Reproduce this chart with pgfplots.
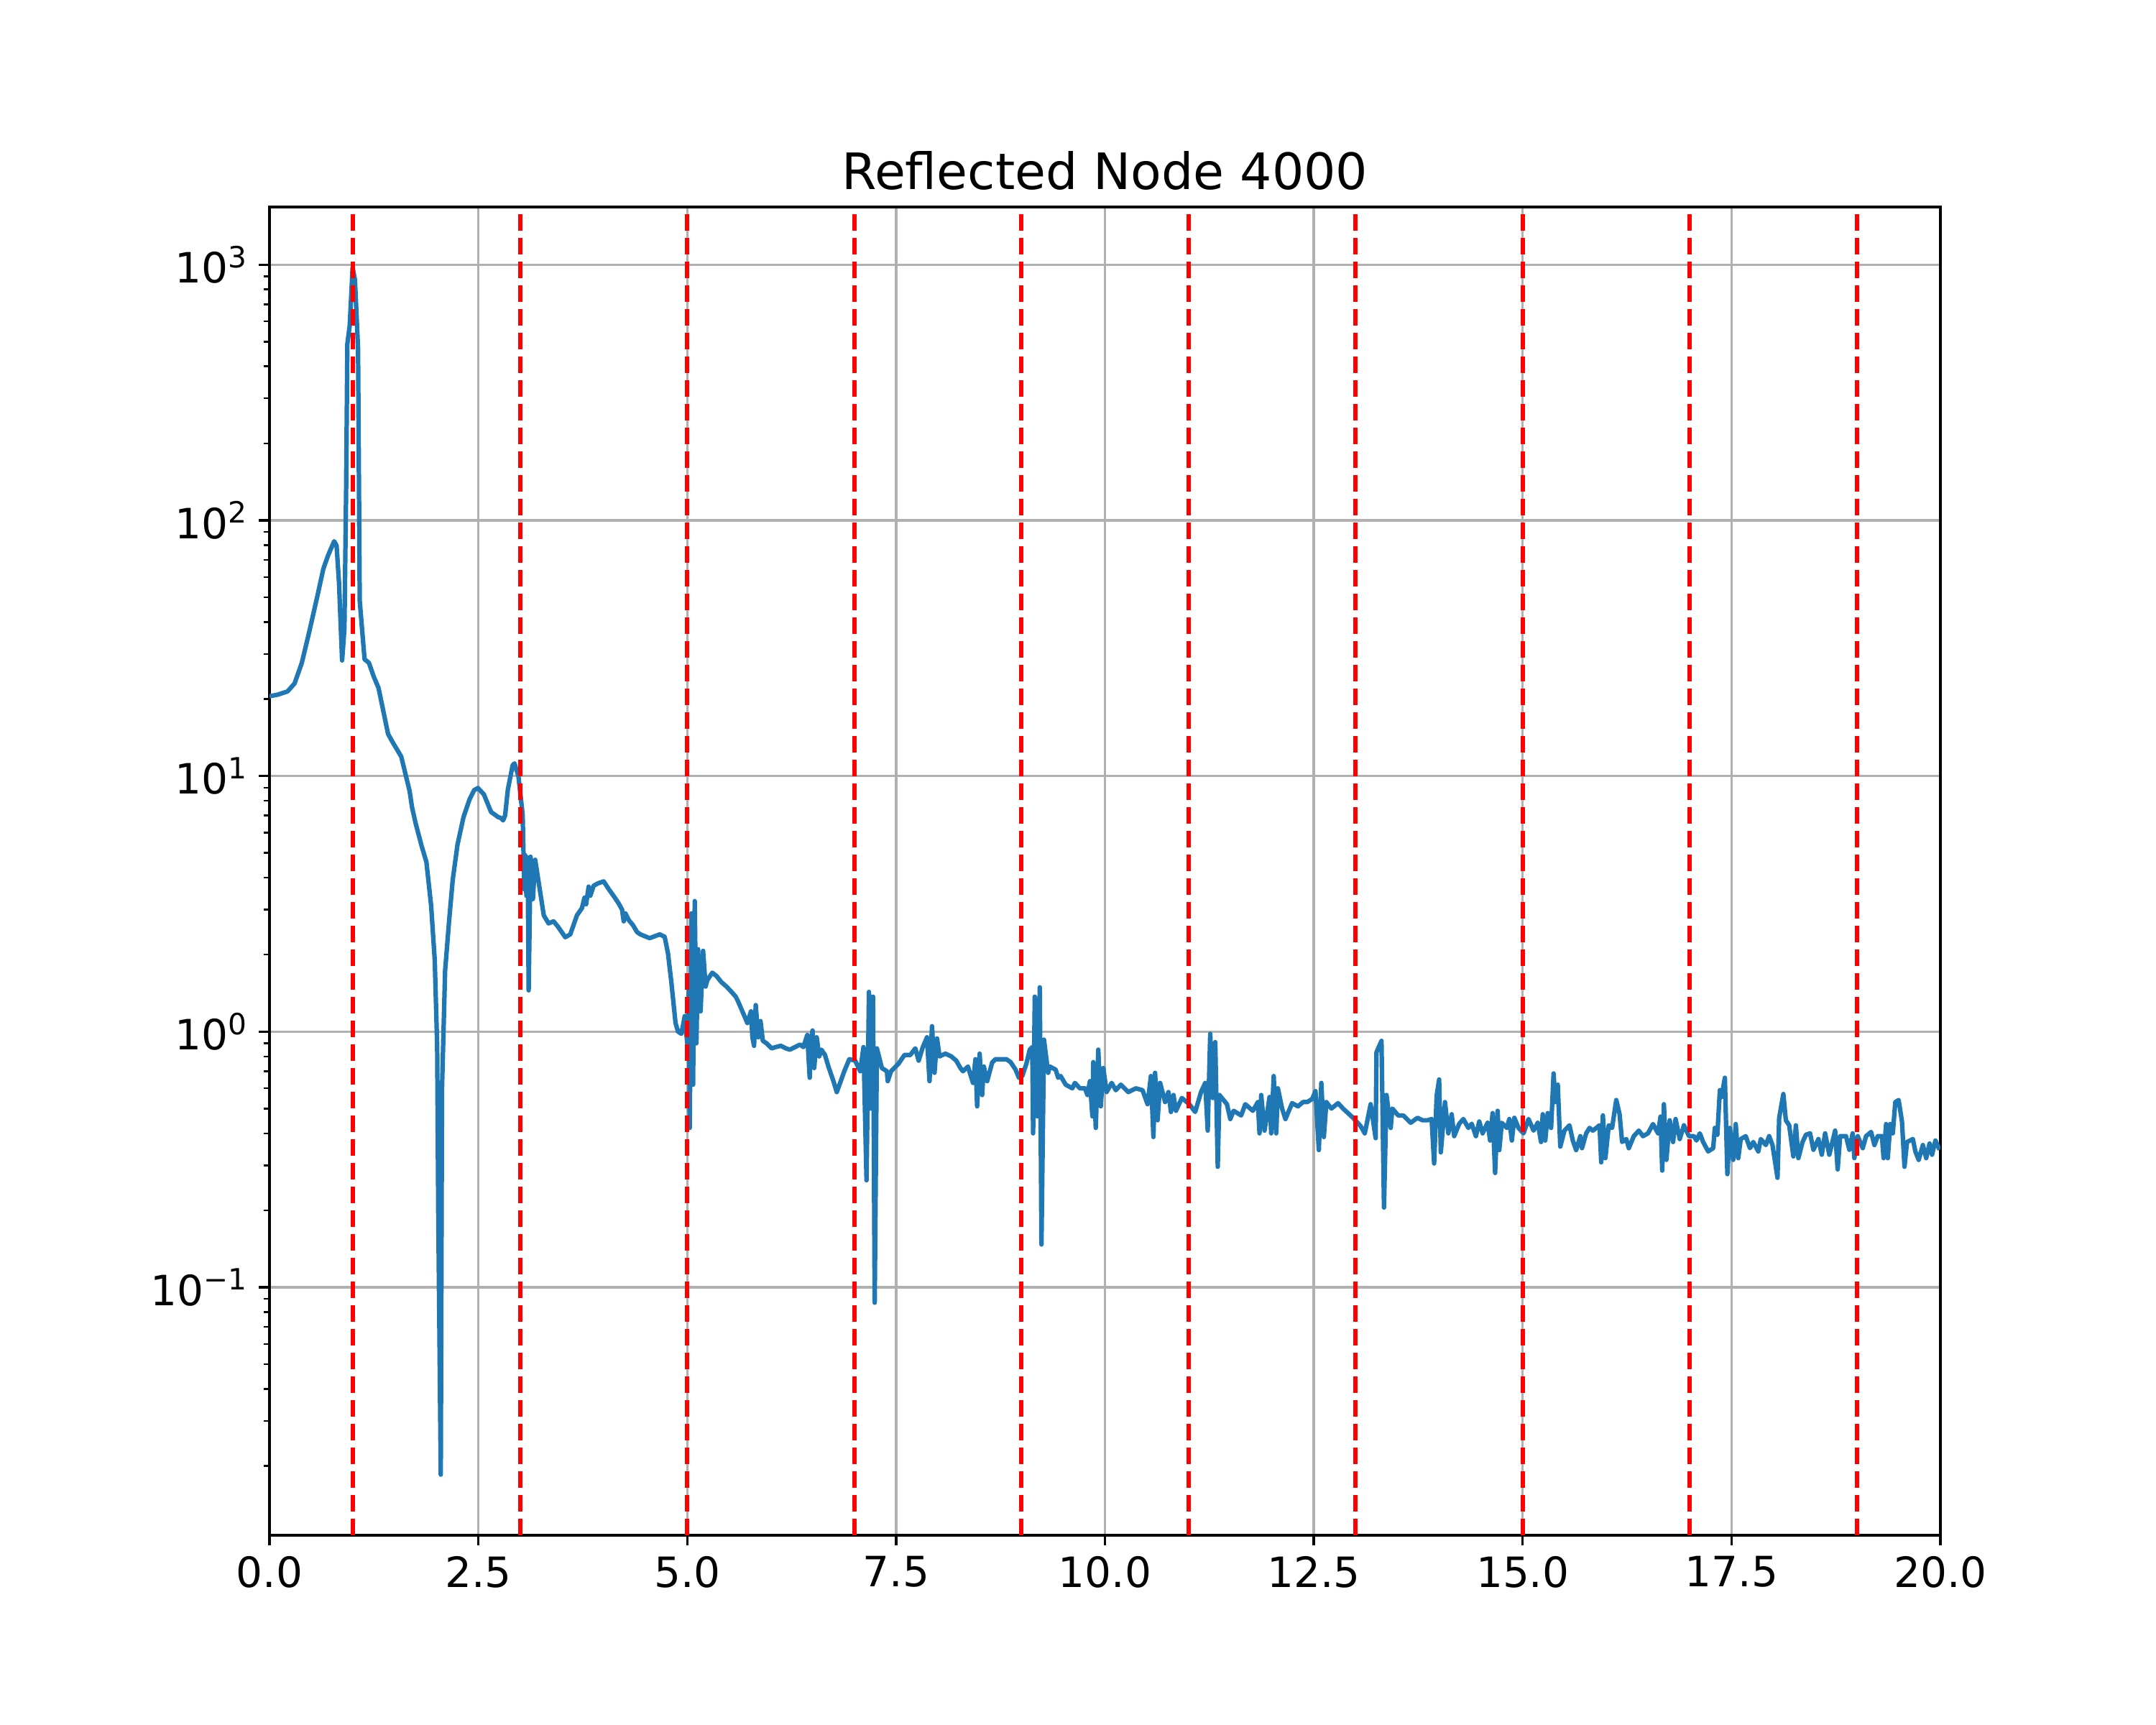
\documentclass[border=0pt]{standalone}
\usepackage{fontspec}
\setmainfont{DejaVu Sans}
\usepackage{pgfplots}
\pgfplotsset{compat=1.18}
\definecolor{mplblue}{HTML}{1F77B4}
\definecolor{gridgray}{HTML}{B0B0B0}
\newcommand{\tp}[1]{10\textsuperscript{#1}}
\begin{document}
\begin{tikzpicture}
\begin{axis}[
  at={(0,0)}, anchor=south west,
  scale only axis, width=7.75in, height=6.16in,
  xmin=0, xmax=20, ymode=log, ymin=0.010715, ymax=1680.6,
  xtick={0,2.5,5,7.5,10,12.5,15,17.5,20},
  xticklabels={0.0,2.5,5.0,7.5,10.0,12.5,15.0,17.5,20.0},
  ytick={0.1,1,10,100,1000},
  yticklabels={\tp{−1},\tp{0},\tp{1},\tp{2},\tp{3}},
  minor ytick={0.02,0.03,0.04,0.05,0.06,0.07,0.08,0.09,0.2,0.3,0.4,0.5,0.6,0.7,0.8,0.9,2,3,4,5,6,7,8,9,20,30,40,50,60,70,80,90,200,300,400,500,600,700,800,900},
  grid=major,
  major grid style={color=gridgray, line width=0.8pt},
  tick align=outside, xtick pos=bottom, ytick pos=left,
  major tick length=3.5pt, minor tick length=2pt,
  major tick style={black, line width=0.8pt},
  minor tick style={black, line width=0.6pt},
  axis line style={line width=0.8pt},
  tick label style={font=\fontsize{14}{16.8}\selectfont},
  title={Reflected Node 4000},
  title style={font=\fontsize{16.8}{20}\selectfont, at={(0.5,1)}, anchor=base},
]
\addplot[color=mplblue, line width=1.5pt, line join=round] coordinates {
(0.0,20.5) (0.1,20.8) (0.215,21.4) (0.30,23) (0.387,27.7) (0.473,36.3) (0.573,50.5) (0.645,64.7) (0.702,73) (0.774,82.8) (0.803,79.6) (0.832,57) (0.869,28.3) (0.897,37.8) (0.917,130) (0.932,490) (0.96,577) (0.995,975) (1.023,871) (1.06,470) (1.08,48.4) (1.138,28.6) (1.19,27.7) (1.247,24.5) (1.305,22.1) (1.419,14.6) (1.477,13.5) (1.577,11.9) (1.677,8.73) (1.706,7.55) (1.749,6.53) (1.821,5.32) (1.878,4.61) (1.935,3.1) (1.978,1.9) (2.007,0.875) (2.021,0.18) (2.05,0.0185) (2.065,0.6) (2.102,1.73) (2.15,2.72) (2.193,3.92) (2.25,5.38) (2.322,6.9) (2.394,8.09) (2.45,8.8) (2.495,8.97) (2.566,8.47) (2.652,7.23) (2.738,6.9) (2.77,6.85) (2.796,6.7) (2.82,7.0) (2.853,8.85) (2.91,11.0) (2.933,11.2) (2.98,9.95) (3.03,7.06) (3.05,3.6) (3.06,4.9) (3.075,3.4) (3.09,4.8) (3.102,1.45) (3.125,4.83) (3.153,3.3) (3.18,4.7) (3.283,2.85) (3.34,2.65) (3.40,2.7) (3.45,2.58) (3.54,2.34) (3.6,2.4) (3.68,2.85) (3.74,3.04) (3.77,3.34) (3.79,3.15) (3.82,3.69) (3.84,3.4) (3.88,3.72) (3.93,3.8) (4.0,3.87) (4.06,3.61) (4.12,3.39) (4.18,3.17) (4.22,3.0) (4.24,2.7) (4.26,2.9) (4.30,2.73) (4.35,2.61) (4.40,2.45) (4.44,2.40) (4.55,2.32) (4.67,2.40) (4.73,2.35) (4.77,2.02) (4.81,1.56) (4.86,1.08) (4.89,1.0) (4.93,0.98) (4.97,1.15) (5.0,0.9) (5.02,1.5) (5.03,0.42) (5.05,2.9) (5.07,0.62) (5.09,3.24) (5.11,0.9) (5.13,2.1) (5.16,1.2) (5.19,2.07) (5.22,1.5) (5.24,1.59) (5.3,1.70) (5.35,1.65) (5.41,1.56) (5.47,1.5) (5.53,1.43) (5.58,1.37) (5.61,1.31) (5.66,1.20) (5.72,1.08) (5.763,1.2) (5.78,0.95) (5.80,0.88) (5.82,1.27) (5.85,0.95) (5.877,1.1) (5.905,0.92) (5.95,0.90) (6.01,0.86) (6.06,0.87) (6.12,0.88) (6.18,0.86) (6.23,0.85) (6.29,0.87) (6.35,0.89) (6.39,0.87) (6.437,0.97) (6.466,0.66) (6.48,0.93) (6.50,1.01) (6.52,0.72) (6.55,0.95) (6.58,0.80) (6.606,0.85) (6.649,0.81) (6.69,0.73) (6.75,0.64) (6.79,0.58) (6.83,0.63) (6.88,0.70) (6.94,0.78) (7.01,0.77) (7.07,0.70) (7.11,0.87) (7.146,0.262) (7.175,1.43) (7.195,0.50) (7.224,1.37) (7.244,0.087) (7.27,0.86) (7.33,0.72) (7.39,0.70) (7.40,0.64) (7.44,0.70) (7.53,0.75) (7.60,0.81) (7.67,0.81) (7.73,0.86) (7.77,0.77) (7.82,0.87) (7.87,0.95) (7.90,0.64) (7.93,1.05) (7.96,0.69) (7.99,0.94) (8.02,0.80) (8.09,0.82) (8.16,0.80) (8.22,0.77) (8.27,0.72) (8.30,0.70) (8.36,0.73) (8.42,0.63) (8.45,0.78) (8.47,0.51) (8.50,0.82) (8.53,0.565) (8.55,0.73) (8.59,0.64) (8.65,0.757) (8.69,0.78) (8.76,0.78) (8.82,0.78) (8.87,0.76) (8.93,0.71) (8.97,0.66) (9.01,0.67) (9.06,0.75) (9.10,0.85) (9.13,0.87) (9.14,0.40) (9.16,1.37) (9.19,0.466) (9.22,1.49) (9.24,0.147) (9.27,0.93) (9.32,0.69) (9.34,0.73) (9.41,0.71) (9.44,0.66) (9.47,0.67) (9.53,0.62) (9.61,0.60) (9.64,0.63) (9.70,0.60) (9.76,0.60) (9.79,0.565) (9.82,0.64) (9.85,0.466) (9.86,0.76) (9.89,0.42) (9.92,0.85) (9.95,0.51) (9.98,0.72) (10.02,0.58) (10.08,0.63) (10.13,0.59) (10.19,0.62) (10.28,0.58) (10.37,0.60) (10.45,0.59) (10.51,0.52) (10.55,0.67) (10.58,0.387) (10.60,0.69) (10.63,0.45) (10.66,0.63) (10.72,0.53) (10.76,0.58) (10.79,0.485) (10.82,0.565) (10.85,0.49) (10.92,0.55) (11.01,0.52) (11.08,0.485) (11.15,0.58) (11.20,0.63) (11.23,0.41) (11.26,0.98) (11.29,0.55) (11.32,0.91) (11.35,0.296) (11.37,0.565) (11.46,0.52) (11.50,0.455) (11.54,0.49) (11.63,0.47) (11.68,0.52) (11.77,0.49) (11.83,0.53) (11.85,0.40) (11.87,0.565) (11.91,0.41) (11.97,0.555) (11.99,0.40) (12.02,0.67) (12.05,0.40) (12.07,0.60) (12.12,0.50) (12.16,0.455) (12.24,0.525) (12.31,0.51) (12.37,0.53) (12.42,0.53) (12.48,0.545) (12.52,0.585) (12.56,0.344) (12.59,0.63) (12.62,0.387) (12.65,0.53) (12.71,0.50) (12.79,0.525) (12.85,0.50) (12.97,0.46) (13.06,0.427) (13.11,0.40) (13.18,0.52) (13.24,0.383) (13.25,0.83) (13.31,0.92) (13.34,0.205) (13.37,0.565) (13.42,0.42) (13.44,0.50) (13.51,0.47) (13.57,0.47) (13.66,0.44) (13.74,0.46) (13.80,0.45) (13.86,0.45) (13.91,0.455) (13.94,0.305) (13.97,0.56) (14.0,0.65) (14.02,0.337) (14.07,0.53) (14.11,0.40) (14.15,0.475) (14.18,0.39) (14.24,0.436) (14.29,0.455) (14.35,0.42) (14.39,0.436) (14.44,0.39) (14.48,0.445) (14.52,0.40) (14.58,0.44) (14.61,0.375) (14.64,0.48) (14.67,0.28) (14.70,0.49) (14.72,0.344) (14.75,0.44) (14.81,0.42) (14.84,0.455) (14.87,0.375) (14.90,0.46) (14.95,0.42) (15.01,0.40) (15.07,0.455) (15.13,0.41) (15.18,0.44) (15.22,0.37) (15.24,0.475) (15.27,0.375) (15.30,0.48) (15.34,0.42) (15.37,0.686) (15.39,0.53) (15.42,0.62) (15.45,0.355) (15.50,0.41) (15.56,0.43) (15.60,0.375) (15.64,0.344) (15.69,0.39) (15.71,0.35) (15.76,0.40) (15.80,0.42) (15.84,0.41) (15.92,0.43) (15.94,0.308) (15.96,0.47) (15.99,0.32) (16.03,0.43) (16.07,0.42) (16.12,0.54) (16.16,0.475) (16.19,0.37) (16.24,0.38) (16.27,0.35) (16.33,0.39) (16.39,0.41) (16.44,0.39) (16.50,0.40) (16.56,0.435) (16.62,0.40) (16.65,0.465) (16.67,0.286) (16.69,0.52) (16.72,0.315) (16.76,0.45) (16.80,0.37) (16.83,0.455) (16.88,0.38) (16.93,0.43) (16.99,0.39) (17.05,0.39) (17.08,0.375) (17.12,0.40) (17.16,0.37) (17.22,0.34) (17.28,0.35) (17.30,0.42) (17.33,0.395) (17.36,0.59) (17.38,0.555) (17.42,0.66) (17.45,0.277) (17.48,0.42) (17.52,0.315) (17.55,0.435) (17.58,0.32) (17.61,0.38) (17.67,0.39) (17.72,0.35) (17.76,0.37) (17.82,0.34) (17.85,0.38) (17.91,0.36) (17.95,0.39) (17.99,0.36) (18.05,0.268) (18.07,0.46) (18.12,0.57) (18.15,0.45) (18.19,0.43) (18.24,0.325) (18.27,0.43) (18.30,0.32) (18.35,0.37) (18.39,0.395) (18.44,0.40) (18.48,0.345) (18.54,0.38) (18.58,0.33) (18.62,0.40) (18.67,0.33) (18.74,0.41) (18.77,0.289) (18.80,0.39) (18.87,0.39) (18.91,0.345) (18.95,0.40) (18.97,0.32) (19.01,0.39) (19.07,0.35) (19.11,0.39) (19.17,0.405) (19.21,0.36) (19.25,0.39) (19.30,0.39) (19.32,0.32) (19.35,0.435) (19.37,0.32) (19.40,0.435) (19.43,0.40) (19.46,0.53) (19.50,0.54) (19.54,0.445) (19.57,0.296) (19.60,0.37) (19.67,0.38) (19.70,0.34) (19.74,0.315) (19.79,0.36) (19.83,0.32) (19.87,0.365) (19.90,0.33) (19.94,0.375) (19.99,0.345)
};
\addplot[color=red, line width=1.5pt, dash pattern=on 5.55pt off 2.4pt] coordinates {(1,0.010715) (1,1680.6)};
\addplot[color=red, line width=1.5pt, dash pattern=on 5.55pt off 2.4pt] coordinates {(3,0.010715) (3,1680.6)};
\addplot[color=red, line width=1.5pt, dash pattern=on 5.55pt off 2.4pt] coordinates {(5,0.010715) (5,1680.6)};
\addplot[color=red, line width=1.5pt, dash pattern=on 5.55pt off 2.4pt] coordinates {(7,0.010715) (7,1680.6)};
\addplot[color=red, line width=1.5pt, dash pattern=on 5.55pt off 2.4pt] coordinates {(9,0.010715) (9,1680.6)};
\addplot[color=red, line width=1.5pt, dash pattern=on 5.55pt off 2.4pt] coordinates {(11,0.010715) (11,1680.6)};
\addplot[color=red, line width=1.5pt, dash pattern=on 5.55pt off 2.4pt] coordinates {(13,0.010715) (13,1680.6)};
\addplot[color=red, line width=1.5pt, dash pattern=on 5.55pt off 2.4pt] coordinates {(15,0.010715) (15,1680.6)};
\addplot[color=red, line width=1.5pt, dash pattern=on 5.55pt off 2.4pt] coordinates {(17,0.010715) (17,1680.6)};
\addplot[color=red, line width=1.5pt, dash pattern=on 5.55pt off 2.4pt] coordinates {(19,0.010715) (19,1680.6)};
\end{axis}
\path (-1.25in,-0.88in) rectangle (8.75in,7.12in);
\end{tikzpicture}
\end{document}
